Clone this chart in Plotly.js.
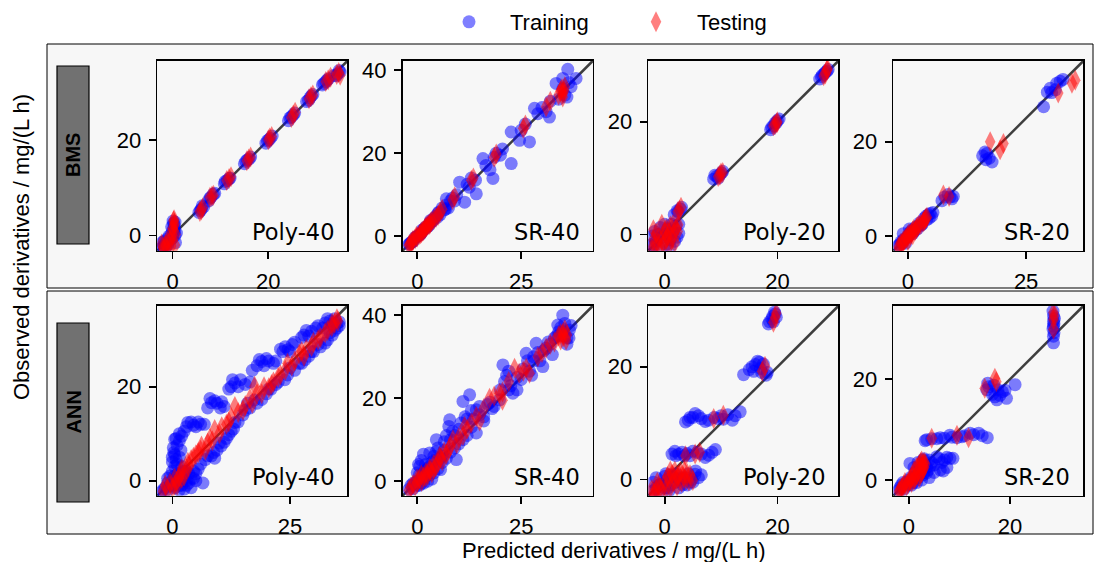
<!DOCTYPE html>
<html>
<head>
<meta charset="utf-8">
<script src="https://cdn.plot.ly/plotly-3.0.1.min.js"></script>
<style>html,body{margin:0;padding:0;background:#fff}#chart{width:1094px;height:562px}</style>
</head>
<body>
<div id="chart"></div>
<script>
// ---------------- DATA ----------------
const rowLabels = ['BMS', 'ANN'];
const modelLabels = ['Poly-40', 'SR-40', 'Poly-20', 'SR-20'];
const seriesNames = ['Training', 'Testing'];
const xTickStep = [20, 25, 20, 25, 25, 25, 20, 20];
const yTickStep = [20, 20, 20, 20, 20, 20, 20, 20];
const xTitle = 'Predicted derivatives / mg/(L h)';
const yTitle = 'Observed derivatives / mg/(L h)';

// [predicted, observed]
const bmsPoly40Train = [[-2,-2.3],[-1.5,-1.8],[-1,-2],[-0.5,-1],[0,-0.5],[0.2,0.5],[0.3,1.5],[0.2,2.5],[0.1,3],[-1.8,-1.2],[-0.8,-0.2],[0.5,0],[0.6,-1.5],[0.4,2],
  [-2.5,-2.8],[-2.2,-1.5],[-1.2,-0.8],[-0.3,0.2],[0,1],[0.4,1],[0.5,2.8],[-0.2,1.8],[0.8,0.5],[-1.5,-2.6],
  [5.5,4.8],[6,5.5],[6.5,6],[5.8,5.2],[6.2,6.2],[7.5,7.2],[8,8],[8.5,8.6],[7.8,7.8],[8.8,8.8],[10.8,10.8],[11.4,11.5],[12,12],[11,11.3],[11.8,11.9],
  [15,15],[15.6,15.8],[16.3,16.4],[15.3,15.5],[16,16],[19.5,19.3],[20.1,20],[20.8,20.8],[20.4,20.3],[19.8,19.8],
  [24.2,24],[24.8,24.8],[25.5,25.6],[24.5,24.6],[25.2,25.2],[28,28],[28.7,28.8],[29.3,29.5],[28.4,28.3],[29,29.2],
  [31.3,31.5],[32,32.2],[32.6,32.8],[31.6,31.8],[32.3,32.5],[33.8,33.5],[34.5,33.8],[35,34.2],[34.2,33.4],[34.8,34.5]];
const bmsPoly40Test = [[-2,-2.5],[-1.5,-2],[-1,-1.5],[-0.5,-1],[0,0],[0.2,1],[0.3,2],[0.2,3],[-1.2,-2.8],[0.5,-2],
  [-2.3,-1.8],[-1.8,-2.9],[-0.8,-0.5],[0,1.5],[0.4,2.5],[0.6,0.2],[-0.3,-2.2],[0.3,3.3],
  [6,5.3],[5.7,5],[6.3,5.8],[8.2,8.2],[7.8,8],[8.5,8.4],[11.8,11.9],[11.3,11.5],[12.2,12.3],[15.9,16],[15.5,15.6],[16.3,16.4],
  [20.3,20.4],[20,20],[20.7,20.7],[25.2,25.2],[24.8,24.7],[25.6,25.8],[28.9,29],[28.5,28.6],[29.3,29.4],
  [32.5,32.6],[32,32.2],[33,33.1],[34.7,34.1],[35,33.5],[34.3,33.7]];

const bmsSR40Train = [[-2,-2],[-1.5,-1.5],[-1,-1.2],[-0.5,-0.3],[0,0],[0.5,0.3],[1,0.8],[1.5,1.5],[2,2.2],[2.5,2.3],[3,3.2],[3.5,3.5],[4,4.3],[4.5,4.8],[5,5.5],[5.5,5.2],[6,6.8],[6.5,6.3],[7,7.5],[7.5,6.8],[8,8.5],[8.5,9.2],[9,8.5],[9.5,10],[7,9],
  [-1.8,-1.8],[-1.2,-1.4],[-0.2,-0.2],[0.8,0.5],[1.8,1.8],[2.8,2.6],[3.8,3.8],[4.8,4.5],[5.2,5.8],[6.8,6.5],[1.2,1.5],[3.2,3.8],
  [11.4,8.2],[10.2,13],[12,12.5],[12.5,11.8],[13,14],[14.2,10.2],[14,13.5],[15.8,18.7],[16.5,17],[17.5,16],[18.2,13.9],[18.5,19],[19,20],[20,19.5],[20.5,21],[22.6,17.5],[22.6,25.1],[24.6,23.1],[25,25.5],[26,27],[27,22.7],[28.2,30.8],[29,29.5],[30,31],[31,30],[31.8,28.7],[32,32.5],[33.4,36.8],[34,33],[35,35.5],[35.5,34],[36.2,40.2],[36.5,37],[37,36],[38.2,38],[35,38],[36,33.5]];
const bmsSR40Test = [[-2,-2.2],[-1.5,-1.6],[-1,-1],[-0.5,-0.6],[0,-0.2],[0.5,0.4],[1,0.9],[1.5,1.3],[2,2],[2.5,2.6],[3,2.9],[3.5,3.6],[4,4],[5,5],[5.5,5.8],[6,6.5],
  [-1.8,-2],[-1.2,-1.3],[-0.2,0],[0.8,0.6],[1.2,1.2],[1.8,1.7],[2.2,2.3],[2.8,2.8],[3.2,3.3],[4.5,4.5],
  [8.5,8.8],[9,9.5],[13,13.5],[13.5,14],[18.5,19],[19,19.8],[25.5,26],[26,26.8],[31,31.2],[32,32.5],[34,34],[34.5,35],[35,34.5],[35.5,36],[35,33.5],[34.8,35.5],[35.3,35]];

const bmsPoly20Train = [[-2,-2],[-1.5,-1.2],[-1,-2.3],[-0.5,-0.5],[0,0],[0.5,1],[1,-1],[1.5,0.5],[2,1.5],[2.2,-0.5],[-1.8,0.5],[-0.8,1.2],[0.3,-1.8],[1.2,1.8],[2.5,0.2],
  [-2.3,-1.8],[-1.2,0],[0.8,0],[1.8,-1.2],[2.5,1.8],[-2.2,-0.3],[0,1.8],[1,-2.2],
  [1.7,3.5],[2.2,4.2],[2.8,4.5],[2.4,4],[3,4.8],[8.7,9.8],[9.2,10.3],[9.8,10.6],[10.3,11.2],[8.9,10.5],[9.5,10],[10.1,10.9],
  [18.8,18.6],[19.3,19.3],[19.8,19.8],[20.3,20.5],[19,19],[19.6,19.8],[20,20.2],
  [27.5,27.6],[28,28.3],[28.5,28.8],[29,29.3],[27.8,28],[28.3,28.5],[28.8,29]];
const bmsPoly20Test = [[-1.8,-2.2],[-1.2,-1.5],[-0.5,-1],[0,0.5],[0.5,-0.5],[1,1.5],[1.5,0],[2,1],[-0.5,1.8],[0.8,-2],
  [-2.3,-2.6],[-2,-1],[-1.5,0.2],[-1,-0.5],[-0.2,-1.8],[0.3,1],[0.8,0.3],[1.2,-1],[1.8,-1.5],[2.3,0.5],[2.4,1.7],[-2,0.8],[-0.8,-2.5],[1.5,1.8],[0.2,-0.8],
  [2.6,4.3],[2.9,4.8],[2.3,4],[9.8,10.5],[10.3,11],[9.5,10.3],[10,10.9],[19.6,19.5],[20,20],[19.3,19.3],[19.9,19.8],
  [28.5,28.5],[28.8,29.2],[28.2,28.2],[28.9,29.4]];

const bmsSR20Train = [[-2,-2],[-1.5,-1.2],[-1,-0.8],[-0.5,-1.5],[0,0],[0.5,0.8],[1,0.5],[1.5,1.8],[2,1.5],[2.5,2.8],[3,2.5],[3.5,3.8],[4,3.5],[4.7,4.8],[5,4.2],[-1,0.5],[0.3,1.5],
  [-1.8,-1.8],[-1.2,-1.5],[-0.3,-0.3],[0.3,0.3],[0.8,1.2],[1.3,1],[2.2,2.2],[2.8,2.3],[3.8,4.2],[4.3,4.5],[5.3,5],[4.5,3.8],
  [7.2,7.5],[7.8,8.3],[8.5,8.8],[9.3,7.9],[8.9,8.3],[9.6,8.4],[15.8,17],[16.3,17.8],[16.7,17.5],[17.2,16.5],[17.8,15.7],[16.5,16.2],
  [28.7,27.4],[29.5,30.5],[30.4,30.4],[30.1,31.3],[31.2,31],[32.2,32.8],[32.8,33.2],[31.5,32.4]];
const bmsSR20Test = [[-2,-2.3],[-1.5,-1.5],[-1,-1],[-0.5,-0.5],[0,0],[0.5,0.3],[1,1],[1.5,1.2],[2,2],[3.2,3],[3.6,3.5],[4,4],
  [-1.8,-2.6],[-1.2,-1.6],[-0.7,-0.9],[-0.2,-0.3],[0.2,0.5],[0.7,0.6],[1.2,1.4],[1.8,1.6],[2.3,2.3],[2.7,2.5],[3.4,3.2],[3.8,3.8],[0,-1],[1,0.3],
  [7.5,8.7],[8.7,8.4],[17.4,20],[20.2,19.6],[19.5,18.3],[31.8,30.3],[34.7,32.4],[35.4,33]];

const annPoly40Train = [[-2,-2],[-1.5,-1.5],[-1,-2],[-0.5,-1],[0,0],[0.5,-1.5],[1,-0.5],[1.5,-2],[2,-1],[2.5,-1.8],[3,-1],[3.5,-0.5],[4,-1.5],[0,2],[0,4],[0.3,6],[0.5,8.8],[1,7.5],[0.5,3],[1.5,5],[1.2,1.5],[2,3],[2.5,0.5],[3,2],[4.5,0.5],[5,1.5],[5.5,2.5],[6,3.5],[6.5,-0.5],
  [-2.5,-2.5],[-1,-0.5],[0,-1],[0.5,1],[1,1],[1.5,-1],[2,0],[3,0],[4,0.5],[3.5,1.5],[4.5,2],[5,0],[0,5],[0.2,7],[0.8,9],[1.5,8.5],[1,3.5],[2.5,2],[-0.5,1],[-1,0.5],[0.5,5.5],[1.8,6.5],[0.8,4.5],
  [2,9.5],[3.3,12.4],[4.5,11.8],[5.5,12.5],[6.8,12],[8.3,16.6],[9,17],[10.2,15.5],[11,15.8],[12.5,20],[13.3,20.8],[14.5,21.5],[15.5,20.5],[18,24.5],[19,25.4],[20,26],[21.5,25],[23.5,27.5],[24.6,27.9],[25.5,29],[28,31],[29.6,31.8],[30.5,32.5],[32.5,33.6],[33.5,34],[35,33.5],
  [1.5,10],[2.5,10.5],[3,11.5],[4,12.5],[5,11.5],[6,12],[7.5,15.5],[8,17.5],[9.5,16.5],[10.5,16.8],[12,19.5],[12.8,21.5],[14,20],[16.5,21],[17,23.5],[18.5,25.8],[19.5,24.5],[20.5,25.5],[22,25.5],[23,28],[24,28.5],[25,27.5],[26,29.5],[27.5,30.5],[28.5,32],[29,30.8],[31,33],[32,32.5],[33,34.5],[34,33.3],[34.5,34.5],[35.5,33.8],
  [7.5,5.3],[8.3,5.3],[9.5,6.5],[10.4,7.4],[11.5,9],[12.5,10.5],[13.3,12.4],[15,14],[16,16.5],[17.5,17.2],[19,17.3],[21,19.5],[22.5,21],[23.9,21.5],[26,23.5],[27,25],[28.2,25.8],[30,27.5],[31,29],[32.5,29.3],[34,31],[34.5,32],[35.5,33],
  [7,4.5],[8.8,6],[9,4.8],[10,8],[11,8.2],[12,9.8],[13,11],[14,12.5],[15.5,15],[16.5,15.5],[18,16.5],[20,18.5],[20.5,19.5],[22,20.5],[24.5,22.5],[25,24],[27.5,25],[29,26.5],[29.5,27.5],[31.5,28.5],[33,30],[33.5,31.5],[35,32.5]];
const annPoly40Test = [[-2,-2.3],[-1.5,-1],[-1,-1.8],[-0.5,-0.5],[0,-1.5],[0.5,0.5],[1,-1],[1.5,0.8],[1.9,1.8],[2.5,1],[3,2.5],[3.3,3.9],[4.5,5],[5.5,6],[6.2,7.4],[7,6.5],[8,9],[9,10.9],[10,10],[11.5,12],[12.5,13.5],[13.3,15.8],[15,15],[16.5,17.5],[17.5,20.1],[19,18.5],[21.1,20.5],[22.5,22],[24,23.5],[25.4,24.4],[27,27],[28,26.5],[29.6,28.6],[31,30],[32.5,31.5],[33.9,32.8],[34.5,33.5],[35,34.5],
  [0.5,-1],[1,0],[2,0.5],[2,2.5],[3.5,3],[4,4.5],[5,5.5],[6,6.5],[7.5,8],[8.5,8.5],[10.5,11.5],[12,12.5],[14,14.5],[15.5,16],[17,16.5],[18,18.5],[19.5,20],[20.5,19.8],[21.5,21],[23,22.5],[24.5,25],[26,25.5],[27.5,27.5],[28.5,28],[30,29.5],[31.5,30.5],[33,32],[34,33.5],[35.2,34]];

const annSR40Train = [[-2,-2],[-1.5,-1],[-1,-1.8],[-0.5,-0.5],[0,0],[0.5,-1],[1,0.5],[1.5,-0.5],[2,1],[2.5,0],[3,1.5],[3.5,0.5],[4,2],[0,2],[0.3,4],[0.6,3.6],[1,5],[1.5,6.5],[2,4],[3,6.8],[4,5],[4.6,10],[5,8],[5.6,2.8],[6,4.5],[6.5,9.5],[7,11],[7.6,13.2],[7.8,14.8],[8.5,12],[9.4,5.2],[9,8],[10,12.5],[11,10],[11,19.2],[12.6,20.8],[12,15],[13,13],[14.2,17.2],[14.2,11.6],[15,16],[16,14.5],[17,18.5],[18,17.5],[19.8,19.6],[20.6,28],[21.5,25.5],[22,22],[23,21.2],[24,25],[25,24.5],[26.2,30.8],[27,26.5],[28,29],[28.6,33.2],[29,31],[30.2,27.6],[31,32],[32,33],[33,34.5],[33.8,37.6],[34,36],[35,40],[35.5,35],[36,33],[36.6,36.4],[37,37.5],[36,34.5],
  [-1,-0.5],[0,-1],[0.5,1.5],[1,-0.5],[1.5,2],[2,2.5],[2.5,3],[3,3.5],[3.5,4.5],[4,6],[4.5,7],[5,3],[5.5,5.5],[6,6],[6.5,7.5],[7,5.5],[8,7],[8,10],[9,11],[10,9],[10.5,14],[11.5,15.5],[12,11],[13,17],[13.5,15],[15,18],[16,15.5],[17.5,19],[18.5,18],[20,22],[21,24],[22,26.5],[22.5,23],[24,22],[25.5,27],[26.5,29],[27.5,25.5],[28,30],[29.5,29],[30.5,31.5],[31.5,33.5],[32.5,30.5],[33.5,35],[34.5,37],[35,36],[35.5,38],[36.5,34.5],[34,35]];
const annSR40Test = [[-2,-2.2],[-1.5,-1.5],[-1,-0.8],[-0.5,-1.2],[0,-0.3],[0.5,0.5],[1,0],[1.5,1],[2.1,2],[2.5,1.5],[3,2.5],[3.5,2],[4,3],[4.5,3.5],[5.4,6],[6,5],[7,6.5],[8.6,10],[9.5,9],[11.4,13.2],[12,12.5],[14.2,15.6],[15,14.5],[17.4,20],[19.8,21.2],[20.5,19.5],[23.4,27.2],[24.5,26],[26.2,27.2],[29,30],[31,32],[33,33.5],[34,35],[35,35.6],[35.8,34],[35.5,36.5],[34.5,34],
  [0,0.5],[1,1.5],[2,1],[3,3],[4,4],[5,4.5],[5.5,5.5],[6.5,7],[7.5,7.5],[8,8.5],[10,10.5],[11,11],[13,14],[16,17.5],[18.5,20.5],[20.5,21.5],[22,24],[25.5,26.5],[27,26],[30,31],[32,33],[34.5,35.5],[35.2,34.8],[36,35.2]];

const annPoly20Train = [[-2,-2],[-1.5,-1.5],[-1,-2.2],[-0.5,-0.8],[0,-1.5],[0.5,0],[1,-1],[1.5,0.5],[2,-0.5],[2.5,-1.5],[3,0.3],[3.7,0.3],[4.2,1],[5.4,0.9],[6,0.3],[6.5,0.8],[4.5,-0.5],[-1.5,0.3],[0.2,1],
  [-1,-1],[0,0.5],[0.5,-1.5],[1,0.8],[2,1],[2.5,0],[3.2,-1],[4,-1],[5,-0.5],[5.5,1.5],[4.8,0],[-2,-0.5],[0.8,-2],
  [1.3,4.5],[2,4.2],[3.1,4.8],[4,4.6],[5,5],[6.5,4.5],[7.2,3.9],[8.4,4.8],[1.8,5],[2.5,4.5],[3.5,4.2],[4.5,4.2],[5.8,4.8],[7.8,4.3],[9,5.3],
  [3.7,10.2],[4.5,11],[5.4,11.7],[6.5,10.8],[7.8,10.5],[8.8,11],[10.4,10.7],[11.2,11.5],[12,10.5],[13.4,12],[4.2,10.5],[5,11],[6,11.3],[7.2,10.3],[9.5,10.8],[10,11.3],[12.5,11.3],
  [14,18.6],[15.5,20],[16.1,20.4],[17,19.7],[18.2,19],[16.5,21],[15,19.5],[15.8,19.2],[17.5,20.5],[18,18.5],[17.2,19],[16.8,20.8],
  [18.4,27.6],[19,28.5],[19.6,29.4],[19.8,28.8],[18.6,28],[19.2,29],[19.5,29.7],[19.3,28]];
const annPoly20Test = [[-2,-2.5],[-1.5,-1.8],[-1.1,-1.2],[-0.5,-2],[0,-0.5],[0.5,0.5],[1,-1.5],[1.3,0.9],[2,0],[2.5,0.9],[3,-0.5],[3.7,0],[4,1],
  [-2.3,-1.8],[-1.8,-2.7],[-1.3,-0.5],[-0.8,-1.5],[0.2,-1.8],[0.8,0.2],[1.5,-0.5],[1.8,1.5],[2.2,-1.2],[2.8,1.3],[3.3,0.5],[4.3,-0.3],[1,1.5],[2.3,0.3],[3.5,1.5],[4.5,0.8],[5,-0.2],
  [3.7,4.2],[5.4,4.5],[6.2,4.8],[8.7,10.8],[10.4,11.4],[17.3,19.2],[17.8,20.1],[19.3,27.9],[19.6,28.8],[19.8,29.5]];

const annSR20Train = [[-2,-2],[-1.5,-1],[-1,-1.8],[-0.5,-0.5],[0,0],[0.5,-1],[1,0.5],[1.5,-0.5],[2,1],[2.5,0],[3,1.5],[3.5,1.4],[4,0.5],[0.2,3.3],[1,2.5],[2.8,4],[3.5,2.5],[4.5,3.5],[5.5,4.6],[6.2,2],[6.5,3.5],[7.5,2.5],[8.1,4.3],[8.7,4.3],[5,1.5],
  [-1.8,-1.5],[-1.2,-0.5],[-0.2,-1],[0.3,0.5],[0.8,-0.5],[1.2,1.5],[1.8,0.5],[2.2,2],[2.8,1],[3.2,3],[3.8,2],[4.2,2.8],[5,3],[6,4.2],[7,4],[7.5,4.5],[4,4],[1.8,3.5],[3,4.2],[6.8,1.8],
  [3.5,8],[4.5,8.2],[6.2,8.4],[7,8.3],[8.1,8.9],[9.5,8.4],[10.5,8.6],[12.1,9.3],[13.8,9.3],[15.5,8.4],[3.2,7.8],[5.5,8.2],[8.5,8.5],[11,8.8],[12.8,9],[14.5,8.8],
  [15.4,17.9],[15.6,19.2],[16.5,17],[17.4,15.9],[17.6,17.9],[18.5,17.5],[19.3,16.2],[21,18.9],[15.8,18.5],[16.8,18.8],[17,16.5],[18,16.8],[19,17.8],
  [28.6,32.5],[28.6,31.5],[28.6,30.5],[28.7,29.2],[28.6,27.2],[28.5,33.5],[28.7,31],[28.5,30],[28.8,32],[28.6,28.5]];
const annSR20Test = [[-2,-2.3],[-1.5,-1.5],[-1,-1],[-0.5,-1.2],[0,-0.2],[0.5,0.5],[1,0],[1.5,1],[2,0.5],[2.5,1.5],[2.8,3.3],[3,2.5],[1.5,2.5],[2.3,3.5],
  [-1.8,-2],[-1.2,-1.5],[-0.8,-0.5],[-0.2,-0.7],[0.3,0],[0.8,0.8],[1.2,0.5],[1.8,1.8],[2.2,1.2],[2.8,2.2],[3.2,3.2],[2,3],[2.5,3.8],[3,3.5],[1,1.8],[0.5,-0.5],[2.7,2.8],
  [4.5,8.3],[9.5,8.9],[11.8,8.4],[15,18.2],[17,20.2],[17.3,19.5],[28.6,33.2],[28.6,31.8],[28.6,29.9],[28.7,32.5]];

const panelTrain = [bmsPoly40Train, bmsSR40Train, bmsPoly20Train, bmsSR20Train, annPoly40Train, annSR40Train, annPoly20Train, annSR20Train];
const panelTest  = [bmsPoly40Test,  bmsSR40Test,  bmsPoly20Test,  bmsSR20Test,  annPoly40Test,  annSR40Test,  annPoly20Test,  annSR20Test];

// ---------------- LAYOUT ----------------
const W = 1094, H = 562;
const fx = p => p / W;
const fy = p => 1 - p / H;
const FONT = 'Liberation Sans, Arial, sans-serif';
const FS = 22;
const colLeft = [157.3, 402.7, 648.3, 893.3];
const plotW = 190;
const rowTop = [61, 306];
const plotH = 189.7;
const axRange = [[-3.2,36.5],[-3.5,42.2],[-2.9,30.8],[-3.1,37.1],[-3.2,37.2],[-3.5,42.2],[-2.9,30.8],[-3.1,34.5]];

const traces = [];
const layout = {
  width: W, height: H,
  margin: {l:0, r:0, t:0, b:0},
  paper_bgcolor: '#ffffff',
  plot_bgcolor: '#f7f7f7',
  font: {family: FONT, size: FS, color: '#000'},
  showlegend: true,
  legend: {
    orientation: 'h', x: fx(428), xanchor: 'left', y: fy(1), yanchor: 'top',
    font: {family: FONT, size: FS, color: '#000'},
    itemwidth: 72, entrywidth: 100, entrywidthmode: 'pixels',
    bgcolor: 'rgba(0,0,0,0)', borderwidth: 0
  },
  shapes: [], annotations: []
};

// row panels
const panelBox = [[47, 44, 1093, 288], [47, 291, 1093, 534]];
const labelBox = [[57, 66, 89, 244], [57, 323, 89, 502]];
for (let r = 0; r < 2; r++) {
  const b = panelBox[r];
  layout.shapes.push({type:'rect', xref:'paper', yref:'paper', layer:'below',
    x0: fx(b[0]), x1: fx(b[2]), y0: fy(b[3]), y1: fy(b[1]),
    fillcolor:'#f7f7f7', line:{color:'#000', width:1}});
  const l = labelBox[r];
  layout.shapes.push({type:'rect', xref:'paper', yref:'paper', layer:'above',
    x0: fx(l[0]), x1: fx(l[2]), y0: fy(l[3]), y1: fy(l[1]),
    fillcolor:'#717171', line:{color:'#000', width:1.2}});
  layout.annotations.push({xref:'paper', yref:'paper', x: fx((l[0]+l[2])/2), y: fy((l[1]+l[3])/2),
    text: '<b>' + rowLabels[r] + '</b>', textangle: -90, showarrow:false,
    xanchor:'center', yanchor:'middle', font:{family: FONT, size: 20, color:'#000'}});
}

for (let i = 0; i < 8; i++) {
  const r = Math.floor(i / 4), c = i % 4;
  const sfx = i === 0 ? '' : String(i + 1);
  const xa = 'x' + sfx, ya = 'y' + sfx;
  const common = {
    range: axRange[i], showgrid:false, zeroline:false,
    showline:true, mirror:true, linecolor:'#000', linewidth:1.7,
    ticks:'outside', ticklen:7, tickwidth:1.7, tickcolor:'#000',
    tick0: 0, tickfont:{family: FONT, size: FS, color:'#000'}, ticklabelstandoff: 3
  };
  layout['xaxis' + sfx] = Object.assign({}, common, {
    domain: [fx(colLeft[c]), fx(colLeft[c] + plotW)], anchor: ya, dtick: xTickStep[i]
  });
  layout['yaxis' + sfx] = Object.assign({}, common, {
    domain: [fy(rowTop[r] + plotH), fy(rowTop[r])], anchor: xa, dtick: yTickStep[i]
  });
  // 1:1 reference line across the square panel
  layout.shapes.push({type:'line', xref: xa + ' domain', yref: ya + ' domain', layer:'below',
    x0:0, y0:0, x1:1, y1:1, line:{color:'rgba(0,0,0,0.75)', width:2.5}});
  layout.annotations.push({xref: xa + ' domain', yref: ya + ' domain', x:1, y:0,
    xanchor:'right', yanchor:'bottom', xshift:-11, yshift:4, showarrow:false,
    text: modelLabels[c], font:{family:'DejaVu Sans, sans-serif', size:22.5, color:'#000'}});

  const tr = panelTrain[i], te = panelTest[i];
  traces.push({type:'scatter', mode:'markers', xaxis: xa, yaxis: ya,
    x: tr.map(p => p[0]), y: tr.map(p => p[1]),
    name: seriesNames[0], legendgroup:'train', showlegend: i === 0,
    marker:{symbol:'circle', size:13, color:'rgba(0,0,255,0.5)', line:{width:0}},
    cliponaxis: true, hoverinfo:'skip'});
  traces.push({type:'scatter', mode:'markers', xaxis: xa, yaxis: ya,
    x: te.map(p => p[0]), y: te.map(p => p[1]),
    name: seriesNames[1], legendgroup:'test', showlegend: i === 0,
    marker:{symbol:'diamond-tall', size:15, color:'rgba(255,0,0,0.5)', line:{width:0}},
    cliponaxis: true, hoverinfo:'skip'});
}

layout.annotations.push({xref:'paper', yref:'paper', x: fx(614), y: fy(550), text: xTitle,
  showarrow:false, xanchor:'center', yanchor:'middle', font:{family: FONT, size: FS, color:'#000'}});
layout.annotations.push({xref:'paper', yref:'paper', x: fx(22), y: fy(247), text: yTitle, textangle:-90,
  showarrow:false, xanchor:'center', yanchor:'middle', font:{family: FONT, size: FS, color:'#000'}});

Plotly.newPlot('chart', traces, layout, {displayModeBar:false, staticPlot:true});
</script>
</body>
</html>
